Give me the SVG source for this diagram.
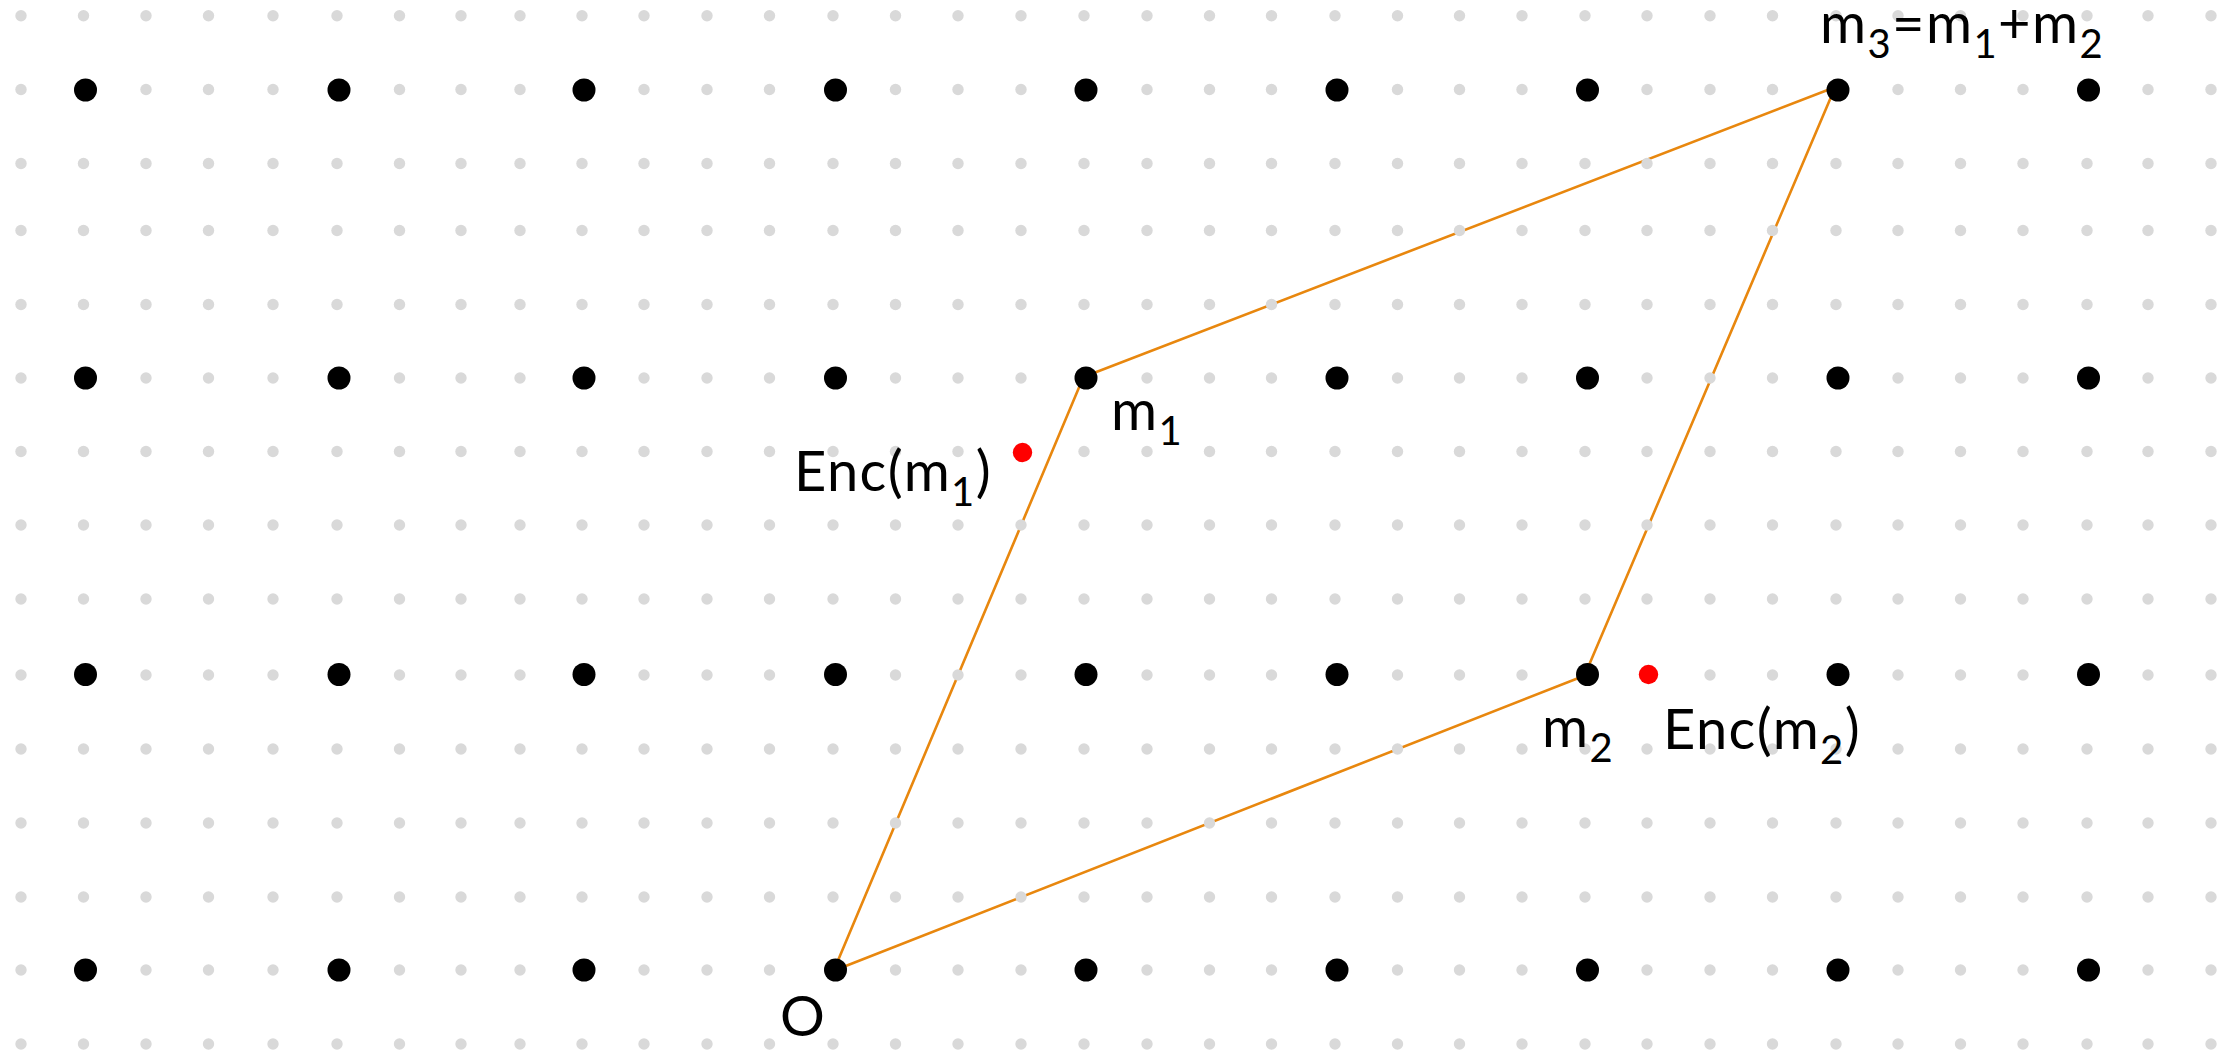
<svg xmlns="http://www.w3.org/2000/svg" xmlns:xlink="http://www.w3.org/1999/xlink" width="2234" height="1054" viewBox="0 0 2234 1054">
<style>
.g{fill:#D9D9D9}
.b{fill:#000}
.edge{stroke:#E8870E;stroke-width:2.6;fill:none;stroke-linecap:round}
.lbl{font-family:Lato,"Open Sans","Liberation Sans",sans-serif;font-size:56px;letter-spacing:1.4px;fill:#000}
.sub{font-size:40px}
</style>
<defs>
<g id="row">
<circle class="g" cx="21" cy="0" r="5.7"/><circle class="g" cx="83.5" cy="0" r="5.7"/><circle class="g" cx="146" cy="0" r="5.7"/><circle class="g" cx="208.5" cy="0" r="5.7"/><circle class="g" cx="273" cy="0" r="5.7"/><circle class="g" cx="337" cy="0" r="5.7"/><circle class="g" cx="399.5" cy="0" r="5.7"/><circle class="g" cx="461" cy="0" r="5.7"/><circle class="g" cx="520" cy="0" r="5.7"/><circle class="g" cx="582" cy="0" r="5.7"/><circle class="g" cx="644" cy="0" r="5.7"/><circle class="g" cx="707" cy="0" r="5.7"/><circle class="g" cx="769.5" cy="0" r="5.7"/><circle class="g" cx="833" cy="0" r="5.7"/><circle class="g" cx="895.5" cy="0" r="5.7"/><circle class="g" cx="958" cy="0" r="5.7"/><circle class="g" cx="1021" cy="0" r="5.7"/><circle class="g" cx="1084" cy="0" r="5.7"/><circle class="g" cx="1147" cy="0" r="5.7"/><circle class="g" cx="1209.5" cy="0" r="5.7"/><circle class="g" cx="1271.5" cy="0" r="5.7"/><circle class="g" cx="1335" cy="0" r="5.7"/><circle class="g" cx="1397.5" cy="0" r="5.7"/><circle class="g" cx="1459.5" cy="0" r="5.7"/><circle class="g" cx="1522" cy="0" r="5.7"/><circle class="g" cx="1585" cy="0" r="5.7"/><circle class="g" cx="1647" cy="0" r="5.7"/><circle class="g" cx="1710" cy="0" r="5.7"/><circle class="g" cx="1772.5" cy="0" r="5.7"/><circle class="g" cx="1836" cy="0" r="5.7"/><circle class="g" cx="1898" cy="0" r="5.7"/><circle class="g" cx="1960.5" cy="0" r="5.7"/><circle class="g" cx="2023" cy="0" r="5.7"/><circle class="g" cx="2087" cy="0" r="5.7"/><circle class="g" cx="2148" cy="0" r="5.7"/><circle class="g" cx="2211" cy="0" r="5.7"/>
</g>
</defs>
<rect width="2234" height="1054" fill="#FFFFFF"/>
<g id="connectors">
<line class="edge" x1="834" y1="970" x2="1083" y2="378"/>
<line class="edge" x1="1086" y1="376" x2="1838" y2="86"/>
<line class="edge" x1="1834" y1="90" x2="1585" y2="674.5"/>
<line class="edge" x1="1587.5" y1="674.5" x2="835.5" y2="970"/>
</g>
<g id="lattice-fine">
<use xlink:href="#row" y="15.7"/><use xlink:href="#row" y="89.5"/><use xlink:href="#row" y="163.5"/><use xlink:href="#row" y="230.5"/><use xlink:href="#row" y="304.5"/><use xlink:href="#row" y="378"/><use xlink:href="#row" y="451.5"/><use xlink:href="#row" y="525"/><use xlink:href="#row" y="599"/><use xlink:href="#row" y="675"/><use xlink:href="#row" y="749"/><use xlink:href="#row" y="823"/><use xlink:href="#row" y="897"/><use xlink:href="#row" y="970"/><use xlink:href="#row" y="1044"/>
</g>
<g id="lattice">
<circle class="b" cx="85.5" cy="90" r="11.5"/><circle class="b" cx="339" cy="90" r="11.5"/><circle class="b" cx="584" cy="90" r="11.5"/><circle class="b" cx="835.5" cy="90" r="11.5"/><circle class="b" cx="1086" cy="90" r="11.5"/><circle class="b" cx="1337" cy="90" r="11.5"/><circle class="b" cx="1587.5" cy="90" r="11.5"/><circle class="b" cx="2088.5" cy="90" r="11.5"/>
<circle class="b" cx="85.5" cy="378" r="11.5"/><circle class="b" cx="339" cy="378" r="11.5"/><circle class="b" cx="584" cy="378" r="11.5"/><circle class="b" cx="835.5" cy="378" r="11.5"/><circle class="b" cx="1337" cy="378" r="11.5"/><circle class="b" cx="1587.5" cy="378" r="11.5"/><circle class="b" cx="1838" cy="378" r="11.5"/><circle class="b" cx="2088.5" cy="378" r="11.5"/>
<circle class="b" cx="85.5" cy="674.5" r="11.5"/><circle class="b" cx="339" cy="674.5" r="11.5"/><circle class="b" cx="584" cy="674.5" r="11.5"/><circle class="b" cx="835.5" cy="674.5" r="11.5"/><circle class="b" cx="1086" cy="674.5" r="11.5"/><circle class="b" cx="1337" cy="674.5" r="11.5"/><circle class="b" cx="1838" cy="674.5" r="11.5"/><circle class="b" cx="2088.5" cy="674.5" r="11.5"/>
<circle class="b" cx="85.5" cy="970" r="11.5"/><circle class="b" cx="339" cy="970" r="11.5"/><circle class="b" cx="584" cy="970" r="11.5"/><circle class="b" cx="1086" cy="970" r="11.5"/><circle class="b" cx="1337" cy="970" r="11.5"/><circle class="b" cx="1587.5" cy="970" r="11.5"/><circle class="b" cx="1838" cy="970" r="11.5"/><circle class="b" cx="2088.5" cy="970" r="11.5"/>
</g>
<g id="node-O">
<circle class="b" cx="835.5" cy="970" r="11.5"/>
<text class="lbl" x="780" y="1036">O</text>
</g>
<g id="node-m1">
<circle class="b" cx="1086" cy="378" r="11.5"/>
<text class="lbl" x="1111" y="430">m<tspan class="sub" dy="15">1</tspan></text>
</g>
<g id="node-m2">
<circle class="b" cx="1587.5" cy="674.5" r="11.5"/>
<text class="lbl" x="1542" y="747">m<tspan class="sub" dy="15">2</tspan></text>
</g>
<g id="node-m3">
<circle class="b" cx="1838" cy="90" r="11.5"/>
<text class="lbl" x="1820" y="43">m<tspan class="sub" dy="15">3</tspan><tspan dy="-15">=m</tspan><tspan class="sub" dy="15">1</tspan><tspan dy="-15">+m</tspan><tspan class="sub" dy="15">2</tspan></text>
</g>
<g id="node-enc-m1">
<circle fill="#FF0000" cx="1022.5" cy="452.5" r="9.7"/>
<text class="lbl" x="794" y="491">Enc(m<tspan class="sub" dy="15">1</tspan><tspan dy="-15">)</tspan></text>
</g>
<g id="node-enc-m2">
<circle fill="#FF0000" cx="1648.5" cy="674.5" r="9.7"/>
<text class="lbl" x="1663" y="748.5">Enc(m<tspan class="sub" dy="15">2</tspan><tspan dy="-15">)</tspan></text>
</g>
</svg>
